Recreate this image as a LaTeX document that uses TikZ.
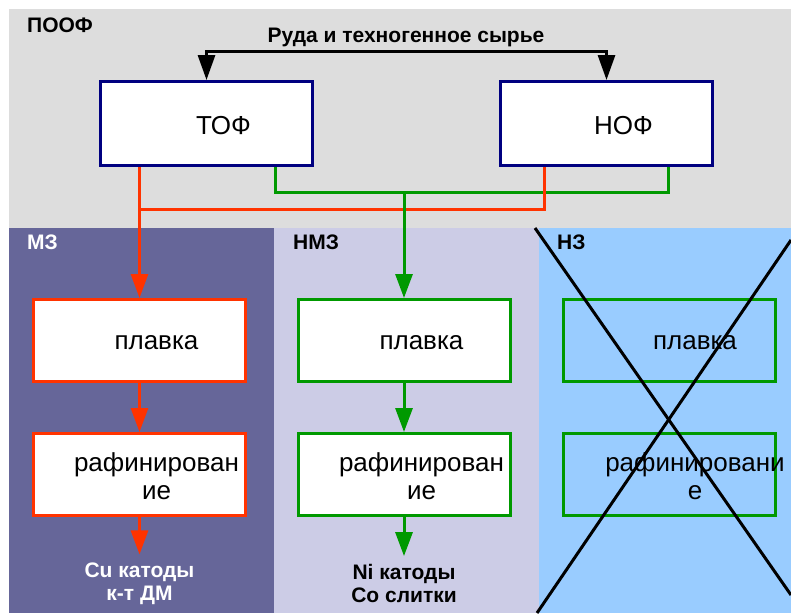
\documentclass[tikz,border=0pt]{standalone}
\usepackage{fontspec}
\setmainfont{Liberation Sans}
\usetikzlibrary{arrows.meta}
\definecolor{poofgray}{HTML}{DDDDDD}
\definecolor{mzblue}{HTML}{666699}
\definecolor{nmzlilac}{HTML}{CCCCE6}
\definecolor{nzblue}{HTML}{99CCFF}
\definecolor{ofnavy}{HTML}{000080}
\definecolor{cured}{HTML}{FF3300}
\definecolor{nigreen}{HTML}{009900}
\tikzset{
    plant/.style={draw=ofnavy,fill=white,line width=3pt,minimum width=212pt,minimum height=84pt,inner sep=0pt},
    stage/.style={line width=3pt,minimum width=212pt,minimum height=82pt,inner sep=0pt},
    unittext/.style={font=\fontsize{26}{28}\selectfont,align=center,yshift=-2pt},
    zonetitle/.style={font=\bfseries\fontsize{21}{24}\selectfont,anchor=base west,inner sep=0pt},
    outtext/.style={font=\bfseries\fontsize{21}{23}\selectfont,align=center,inner sep=8pt},
    redline/.style={cured,line width=3pt},
    greenline/.style={nigreen,line width=3pt},
    redflow/.style={redline,-{Triangle[length=24pt,width=17pt]}},
    greenflow/.style={greenline,-{Triangle[length=24pt,width=17pt]}},
}
\begin{document}
\begin{tikzpicture}[x=1pt,y=-1pt]
    \useasboundingbox (0,0) rectangle (791,613);
    %% zones
    \fill[poofgray] (9,9) rectangle (791,228);
    \fill[mzblue] (9,228) rectangle (274,613);
    \fill[nmzlilac] (274,228) rectangle (539,613);
    \fill[nzblue] (539,228) rectangle (791,613);
    \node[zonetitle] (poof) at (27,32) {ПООФ};
    \node[zonetitle,white] (mz) at (27,249) {МЗ};
    \node[zonetitle] (nmz) at (293,249) {НМЗ};
    \node[zonetitle] (nz) at (557,249) {НЗ};
    %% concentrators
    \node[plant] (tof) at (206.5,123.5) {};
    \node[unittext] (toftext) at ([xshift=17pt]tof.center) {ТОФ};
    \node[plant] (nof) at (606.5,123.5) {};
    \node[unittext] (noftext) at ([xshift=17pt]nof.center) {НОФ};
    \draw[line width=3pt,{Triangle[length=25pt,width=17pt]}-{Triangle[length=25pt,width=17pt]}] (tof.north) -- ++(0,-29) -| (nof.north);
    \node[outtext] (ore) at (406,37) {Руда и техногенное сырье};
    %% plants
    \foreach \col/\x/\clr/\bg/\dx/\rtext in {1/139.5/cured/white/17/{рафинирован\\ие},2/404/nigreen/white/17.5/{рафинирован\\ие},3/669.5/nigreen/none/25.5/{рафинировани\\е}}{
        \node[stage,draw=\clr,fill=\bg] (melt\col) at (\x,340.5) {};
        \node[unittext] (melttext\col) at ([xshift=\dx pt]melt\col.center) {плавка};
        \node[stage,draw=\clr,fill=\bg] (refine\col) at (\x,474.5) {};
        \node[unittext] (refinetext\col) at ([xshift=\dx pt]refine\col.center) {\rtext};
    }
    \node[outtext,white] (cuout) at (139.5,583.5) {Cu катоды\\к-т ДМ};
    \node[outtext] (niout) at (404,583.5) {Ni катоды\\Co слитки};
    %% flows
    \coordinate (redjoin) at (melt1.north |- 0,209);
    \coordinate (greenjoin) at (melt2.north |- 0,192);
    \coordinate (nofred) at ([xshift=-62.5pt]nof.south);
    \coordinate (tofgreen) at ([xshift=68.5pt]tof.south);
    \coordinate (nofgreen) at ([xshift=61.5pt]nof.south);
    \draw[greenline] (tofgreen) |- (greenjoin) -| (nofgreen);
    \draw[redline] (nofred) |- (redjoin);
    \draw[redflow] (tof.south -| melt1.north) -- (melt1.north);
    \draw[greenflow] (greenjoin) -- (melt2.north);
    \draw[redflow] (melt1) -- (refine1);
    \draw[redflow] (refine1) -- (cuout);
    \draw[greenflow] (melt2) -- (refine2);
    \draw[greenflow] (refine2) -- (niout);
    %% crossed out
    \draw[line width=3pt] (535,228) -- (791,595);
    \draw[line width=3pt] (791,240) -- (537,613);
\end{tikzpicture}
\end{document}
